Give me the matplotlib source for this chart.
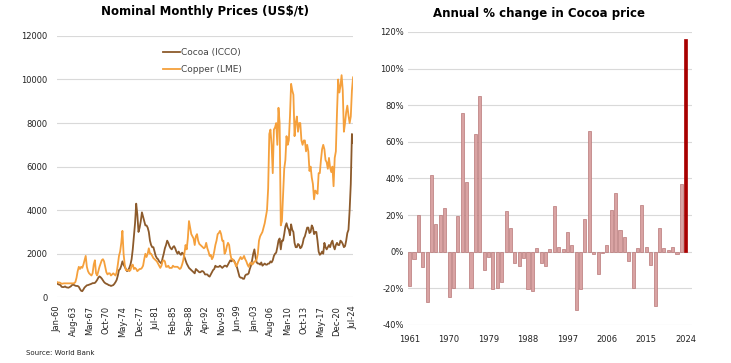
import numpy as np
import matplotlib
matplotlib.use('Agg')
import matplotlib.pyplot as plt

plt.rcParams['font.family'] = ['DejaVu Sans']

# ---- 左图：月度名义价格（按季度读取，单位 US$/t）----
# 月序号：0 = Jan-60，每 3 个月一个点，最后一个点 Jul-24
cocoa_q = [
    640, 600, 580, 560,   # 1960
    480, 470, 470, 500,   # 1961
    460, 450, 440, 470,   # 1962
    500, 560, 580, 560,   # 1963
    530, 520, 520, 480,   # 1964
    380, 300, 280, 360,   # 1965
    450, 500, 550, 560,   # 1966
    580, 600, 620, 650,   # 1967
    650, 660, 720, 800,   # 1968
    900, 960, 920, 860,   # 1969
    780, 700, 650, 620,   # 1970
    600, 560, 550, 520,   # 1971
    540, 560, 620, 700,   # 1972
    800, 1000, 1250, 1300,   # 1973
    1450, 1650, 1500, 1400,  # 1974
    1300, 1200, 1250, 1350,  # 1975
    1500, 1750, 2200, 2800,  # 1976
    3400, 4300, 3800, 3000,  # 1977
    3200, 3500, 3900, 3700,  # 1978
    3500, 3300, 3300, 3200,  # 1979
    3000, 2600, 2400, 2300,  # 1980
    2300, 2100, 1900, 1800,  # 1981
    1750, 1650, 1600, 1550,  # 1982
    1800, 2000, 2250, 2400,  # 1983
    2600, 2500, 2350, 2250,  # 1984
    2200, 2300, 2350, 2250,  # 1985
    2100, 2000, 2100, 2000,  # 1986
    1950, 2050, 2000, 1850,  # 1987
    1700, 1550, 1450, 1350,  # 1988
    1300, 1250, 1200, 1150,  # 1989
    1100, 1300, 1250, 1200,  # 1990
    1150, 1150, 1200, 1200,  # 1991
    1150, 1050, 1050, 1050,  # 1992
    980, 950, 1050, 1150,    # 1993
    1250, 1300, 1450, 1400,  # 1994
    1400, 1400, 1450, 1400,  # 1995
    1350, 1400, 1450, 1450,  # 1996
    1400, 1500, 1600, 1700,  # 1997
    1650, 1700, 1700, 1600,  # 1998
    1500, 1350, 1150, 950,   # 1999
    900, 900, 850, 850,      # 2000
    1000, 1050, 1050, 1100,  # 2001
    1300, 1450, 1700, 2000,  # 2002
    2200, 1850, 1600, 1550,  # 2003
    1550, 1500, 1600, 1450,  # 2004
    1500, 1550, 1500, 1500,  # 2005
    1550, 1550, 1650, 1600,  # 2006
    1700, 1900, 2000, 2050,  # 2007
    2300, 2600, 2700, 2200,  # 2008
    2600, 2600, 2900, 3250,  # 2009
    3400, 3200, 3100, 2850,  # 2010
    3350, 3100, 3000, 2500,  # 2011
    2300, 2300, 2450, 2400,  # 2012
    2250, 2300, 2450, 2700,  # 2013
    2800, 3000, 3200, 3200,  # 2014
    2950, 3000, 3300, 3200,  # 2015
    2900, 3000, 3000, 2600,  # 2016
    2100, 1950, 2000, 2100,  # 2017
    2000, 2500, 2300, 2200,  # 2018
    2300, 2400, 2300, 2500,  # 2019
    2600, 2350, 2200, 2400,  # 2020
    2500, 2400, 2400, 2600,  # 2021
    2550, 2450, 2300, 2350,  # 2022
    2600, 2950, 3100, 4000,  # 2023
    5200, 7500, 7100,        # 2024
]

copper_q = [
    700, 680, 680, 660,      # 1960
    620, 630, 640, 640,      # 1961
    640, 640, 640, 640,      # 1962
    640, 640, 640, 650,      # 1963
    700, 900, 1200, 1400,    # 1964
    1300, 1400, 1350, 1500,  # 1965
    1700, 1900, 1400, 1200,  # 1966
    1100, 1050, 1000, 1100,  # 1967
    1500, 1700, 1100, 1000,  # 1968
    1200, 1400, 1550, 1700,  # 1969
    1750, 1650, 1400, 1150,  # 1970
    1050, 1100, 1100, 1000,  # 1971
    1050, 1100, 1050, 1000,  # 1972
    1150, 1500, 1900, 2100,  # 1973
    2500, 3050, 2000, 1500,  # 1974
    1250, 1250, 1250, 1200,  # 1975
    1250, 1450, 1500, 1300,  # 1976
    1350, 1300, 1200, 1250,  # 1977
    1300, 1300, 1350, 1450,  # 1978
    1750, 2000, 1850, 2000,  # 1979
    2250, 2000, 2000, 1900,  # 1980
    1800, 1750, 1700, 1650,  # 1981
    1550, 1450, 1350, 1450,  # 1982
    1650, 1700, 1650, 1400,  # 1983
    1400, 1450, 1350, 1350,  # 1984
    1350, 1450, 1400, 1400,  # 1985
    1400, 1400, 1350, 1300,  # 1986
    1350, 1500, 1700, 2000,  # 1987
    2400, 2200, 2700, 3500,  # 1988
    3200, 2900, 2800, 2700,  # 1989
    2400, 2800, 2900, 2600,  # 1990
    2450, 2400, 2350, 2300,  # 1991
    2250, 2300, 2500, 2250,  # 1992
    2100, 1900, 1950, 1750,  # 1993
    1850, 2100, 2400, 2600,  # 1994
    2900, 2950, 3050, 2900,  # 1995
    2600, 2600, 2000, 2100,  # 1996
    2350, 2500, 2400, 2000,  # 1997
    1750, 1750, 1650, 1600,  # 1998
    1420, 1500, 1650, 1750,  # 1999
    1850, 1750, 1800, 1900,  # 2000
    1750, 1650, 1500, 1400,  # 2001
    1550, 1600, 1500, 1550,  # 2002
    1650, 1650, 1750, 2000,  # 2003
    2600, 2800, 2900, 3000,  # 2004
    3200, 3400, 3700, 4000,  # 2005
    5000, 7500, 7700, 7000,  # 2006
    5700, 7700, 7800, 8000,  # 2007
    7000, 8700, 8000, 3300,  # 2008
    3500, 4700, 5900, 6300,  # 2009
    7400, 7000, 7200, 8300,  # 2010
    9800, 9500, 9300, 7400,  # 2011
    8000, 8300, 7600, 8000,  # 2012
    8000, 7200, 7000, 7200,  # 2013
    7200, 6700, 7000, 6700,  # 2014
    5800, 6000, 5500, 5200,  # 2015
    4500, 4900, 4850, 4750,  # 2016
    5700, 5700, 6300, 6800,  # 2017
    7000, 6800, 6300, 6200,  # 2018
    5900, 6400, 5950, 5750,  # 2019
    6000, 5100, 6400, 6700,  # 2020
    8500, 10000, 9400, 9700,  # 2021
    10200, 9500, 7600, 8000,  # 2022
    8500, 8800, 8350, 8000,  # 2023
    8300, 9500, 10100,       # 2024
]

date_labels = ['Jan-60', 'Aug-63', 'Mar-67', 'Oct-70', 'May-74', 'Dec-77', 'Jul-81',
               'Feb-85', 'Sep-88', 'Apr-92', 'Nov-95', 'Jun-99', 'Jan-03', 'Aug-06',
               'Mar-10', 'Oct-13', 'May-17', 'Dec-20', 'Jul-24']

# ---- 右图：可可价格年度变化 % ----
years = list(range(1961, 2025))
pct_change = [
    -19, -4, 20, -8.5, -27.5, 42, 15, 20, 24, -24.5,      # 1961-1970
    -20, 19.5, 75.5, 38, -20, 64, 85, -10, -3, -20.5,      # 1971-1980
    -20, -16.5, 22, 13, -6, -8, -3.5, -20.5, -21.5, 2,     # 1981-1990
    -6, -8, 1.5, 25, 2.5, 1.5, 11, 3.5, -32, -20.5,        # 1991-2000
    18, 66, -1.5, -12, -1, 3.5, 22.5, 32, 12, 8,           # 2001-2010
    -5, -20, 2, 25.5, 2.5, -7.5, -29.5, 13, 2, 1,          # 2011-2020
    2.5, -1.5, 37, 116,                                    # 2021-2024
]
year_ticks = [1961, 1970, 1979, 1988, 1997, 2006, 2015, 2024]

colors = {
    'cocoa': '#8C5A2B',
    'copper': '#F5A03C',
    'bar': '#D9A3A3',
    'bar_edge': '#B87878',
    'bar_last': '#A80000',
    'grid': '#D9D9D9',
}

fig = plt.figure(figsize=(7.31, 3.63), dpi=100)

# 左图
ax1 = fig.add_axes([0.078, 0.181, 0.405, 0.72])
months = np.arange(len(cocoa_q)) * 3
ax1.plot(months, cocoa_q, '-', linewidth=1.3, color=colors['cocoa'], label='Cocoa (ICCO)')
ax1.plot(months, copper_q, '-', linewidth=1.3, color=colors['copper'], label='Copper (LME)')
ax1.set_xlim(0, 774)
ax1.set_ylim(0, 12000)
ax1.set_yticks(range(0, 12001, 2000))
ax1.set_xticks(np.arange(len(date_labels)) * 43)
ax1.set_xticklabels(date_labels, rotation=90)
ax1.tick_params(axis='both', length=0, labelsize=6, colors='#222222')
ax1.tick_params(axis='y', pad=7)
ax1.tick_params(axis='x', pad=6)
ax1.grid(True, axis='y', color=colors['grid'], linewidth=0.8)
ax1.set_axisbelow(True)
for s in ax1.spines.values():
    s.set_visible(False)
ax1.set_title('Nominal Monthly Prices (US$/t)', fontsize=8.5, fontweight='bold', pad=15)
ax1.legend(loc='upper left', bbox_to_anchor=(0.33, 0.985), frameon=False, fontsize=6.5,
           handlelength=1.9, handletextpad=0.1, labelspacing=0.9, labelcolor='#444444')

# 右图
ax2 = fig.add_axes([0.558, 0.105, 0.3885, 0.807])
bar_colors = [colors['bar']] * (len(years) - 1) + [colors['bar_last']]
edge_colors = [colors['bar_edge']] * (len(years) - 1) + [colors['bar_last']]
ax2.bar(years, pct_change, width=0.7, color=bar_colors, edgecolor=edge_colors, linewidth=0.5)
ax2.set_xlim(1960.6, 2025.4)
ax2.set_ylim(-40, 120)
ax2.set_yticks(range(-40, 121, 20))
ax2.set_yticklabels([f'{v}%' for v in range(-40, 121, 20)])
ax2.set_xticks(year_ticks)
ax2.tick_params(axis='both', length=0, labelsize=6, colors='#222222')
ax2.tick_params(axis='y', pad=3)
ax2.tick_params(axis='x', pad=7)
ax2.grid(True, axis='y', color=colors['grid'], linewidth=0.8)
ax2.set_axisbelow(True)
for s in ax2.spines.values():
    s.set_visible(False)
ax2.set_title('Annual % change in Cocoa price', fontsize=8.5, fontweight='bold', x=0.46, pad=11)

fig.text(0.036, 0.022, 'Source: World Bank', fontsize=5, color='#222222')

plt.savefig('out.png', dpi=100)
